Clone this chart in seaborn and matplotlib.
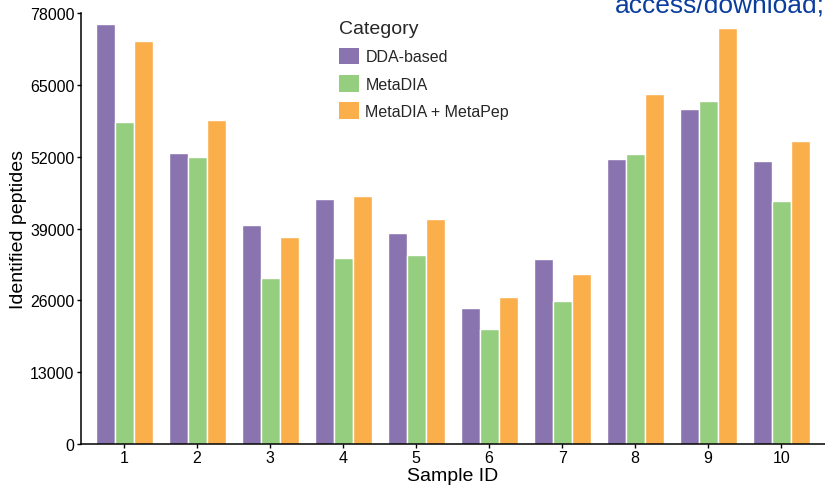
import matplotlib
matplotlib.use("Agg")
import matplotlib.pyplot as plt
import seaborn as sns
import pandas as pd

samples = ["1", "2", "3", "4", "5", "6", "7", "8", "9", "10"]
categories = ["DDA-based", "MetaDIA", "MetaDIA + MetaPep"]
dda_based = [76000, 52700, 39600, 44300, 38200, 24600, 33500, 51600, 60600, 51200]
metadia = [58300, 51900, 30000, 33700, 34200, 20800, 25900, 52500, 62100, 44000]
metadia_metapep = [72900, 58600, 37500, 44900, 40700, 26600, 30800, 63300, 75300, 54800]
y_ticks = [0, 13000, 26000, 39000, 52000, 65000, 78000]
colors = ["#8A74B0", "#96CE80", "#FAAF4B"]

rows = []
for cat, vals in zip(categories, [dda_based, metadia, metadia_metapep]):
    for s, v in zip(samples, vals):
        rows.append({"Sample ID": s, "Category": cat, "Identified peptides": v})
df = pd.DataFrame(rows)

sns.set_theme(style="ticks")
plt.rcParams["font.family"] = ["Liberation Sans", "DejaVu Sans"]

W, H = 825, 489
fig = plt.figure(figsize=(W / 100, H / 100), dpi=100)
ax_w = 1 - 81 / W
ax_h = (445 - 14) / H
ax = fig.add_axes([81 / W, 44 / H, ax_w, ax_h])

sns.barplot(data=df, x="Sample ID", y="Identified peptides", hue="Category",
            order=samples, hue_order=categories, palette=colors,
            width=0.78, edgecolor="white", linewidth=1, saturation=1,
            errorbar=None, ax=ax)

ax.set_xlim(-0.59, 9.6)
ax.set_ylim(0, 78000)
ax.set_yticks(y_ticks)
ax.set_yticklabels([str(t) for t in y_ticks])
ax.tick_params(axis="both", labelsize=11.5, length=3.2, width=1, color="black", labelcolor="black")
ax.tick_params(axis="x", pad=1)
ax.tick_params(axis="y", pad=1.5)
for side in ["top", "right"]:
    ax.spines[side].set_visible(False)
for side in ["left", "bottom"]:
    ax.spines[side].set_linewidth(1.1)
    ax.spines[side].set_color("black")
ax.set_xlabel("Sample ID", fontsize=14, color="black")
ax.set_ylabel("Identified peptides", fontsize=14, color="black")
ax.xaxis.set_label_coords(0.5, -(467.8 - 445) / 431)
ax.yaxis.set_label_coords(-(81 - 27) / 744, 0.5)

leg = ax.legend(title="Category", loc="upper left",
                bbox_to_anchor=(339 / W, 1 - 21 / H), bbox_transform=fig.transFigure,
                frameon=False, fontsize=11.5, title_fontsize=14,
                handlelength=1.25, handleheight=1.25, handletextpad=0.4,
                labelspacing=0.66, borderpad=0, borderaxespad=0)
leg._legend_box.align = "left"
for h in leg.legend_handles:
    h.set_edgecolor("none")

fig.text(615 / W, 1 - 12 / H, "access/download;", color="#0A3D9E",
         fontsize=19, ha="left", va="baseline")

fig.savefig("out.png", dpi=100)
